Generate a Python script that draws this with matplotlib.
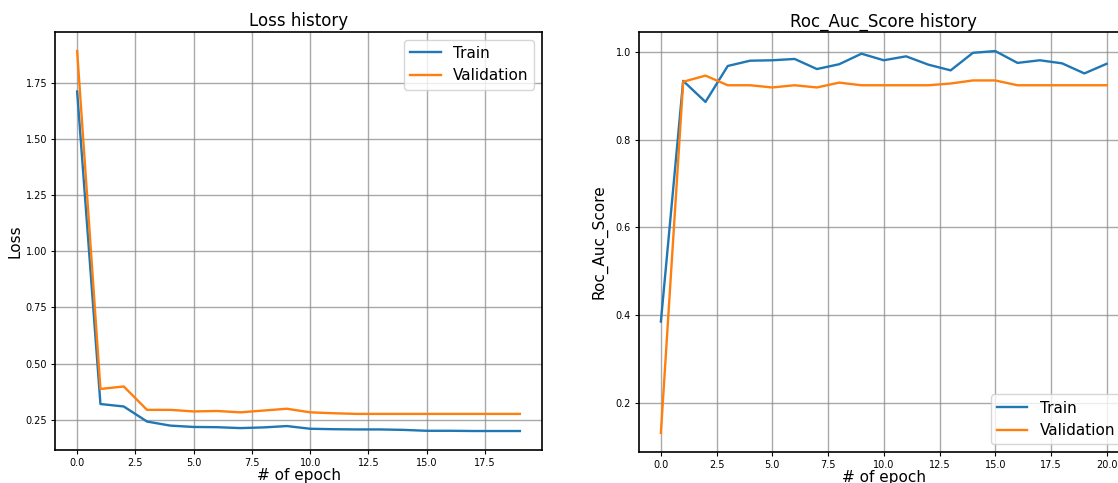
import matplotlib
matplotlib.use("Agg")
import matplotlib.pyplot as plt
import numpy as np

loss_train = [1.71, 0.321, 0.310, 0.243, 0.225, 0.219, 0.218, 0.214, 0.217, 0.223,
              0.211, 0.209, 0.208, 0.208, 0.206, 0.202, 0.202, 0.201, 0.201, 0.201]
loss_val = [1.89, 0.388, 0.399, 0.295, 0.295, 0.288, 0.290, 0.284, 0.292, 0.300,
            0.284, 0.280, 0.277, 0.277, 0.277, 0.277, 0.277, 0.277, 0.277, 0.277]

auc_train = [0.385, 0.934, 0.886, 0.968, 0.980, 0.981, 0.984, 0.961, 0.972, 0.996,
             0.981, 0.990, 0.971, 0.958, 0.998, 1.002, 0.975, 0.981, 0.974, 0.951, 0.973]
auc_val = [0.131, 0.932, 0.946, 0.924, 0.924, 0.919, 0.924, 0.919, 0.930, 0.924,
           0.924, 0.924, 0.924, 0.928, 0.935, 0.935, 0.924, 0.924, 0.924, 0.924, 0.924]

fig = plt.figure(figsize=(11.18, 4.83), dpi=100)
ax1 = fig.add_axes([0.0492, 0.0683, 0.4356, 0.8654])
ax2 = fig.add_axes([0.5712, 0.0642, 0.4386, 0.8696])

blue = "#1f77b4"
orange = "#ff7f0e"

def style(ax, title, ylabel, loc, ypad):
    ax.set_title(title, fontsize=12, pad=4)
    ax.set_xlabel("# of epoch", fontsize=11, labelpad=0)
    ax.set_ylabel(ylabel, fontsize=11, labelpad=ypad)
    ax.tick_params(labelsize=7, length=3, pad=2.5)
    ax.grid(True, color="#8c8c8c", linewidth=1.0, alpha=0.75)
    for s in ax.spines.values():
        s.set_linewidth(1.2)
    ax.legend(fontsize=11, loc=loc)

ax1.plot(range(len(loss_train)), loss_train, color=blue, lw=1.7, label="Train")
ax1.plot(range(len(loss_val)), loss_val, color=orange, lw=1.7, label="Validation")
style(ax1, "Loss history", "Loss", "upper right", 2)

ax2.plot(range(len(auc_train)), auc_train, color=blue, lw=1.7, label="Train")
ax2.plot(range(len(auc_val)), auc_val, color=orange, lw=1.7, label="Validation")
style(ax2, "Roc_Auc_Score history", "Roc_Auc_Score", "lower right", 6)

fig.savefig("out.png", dpi=100)
